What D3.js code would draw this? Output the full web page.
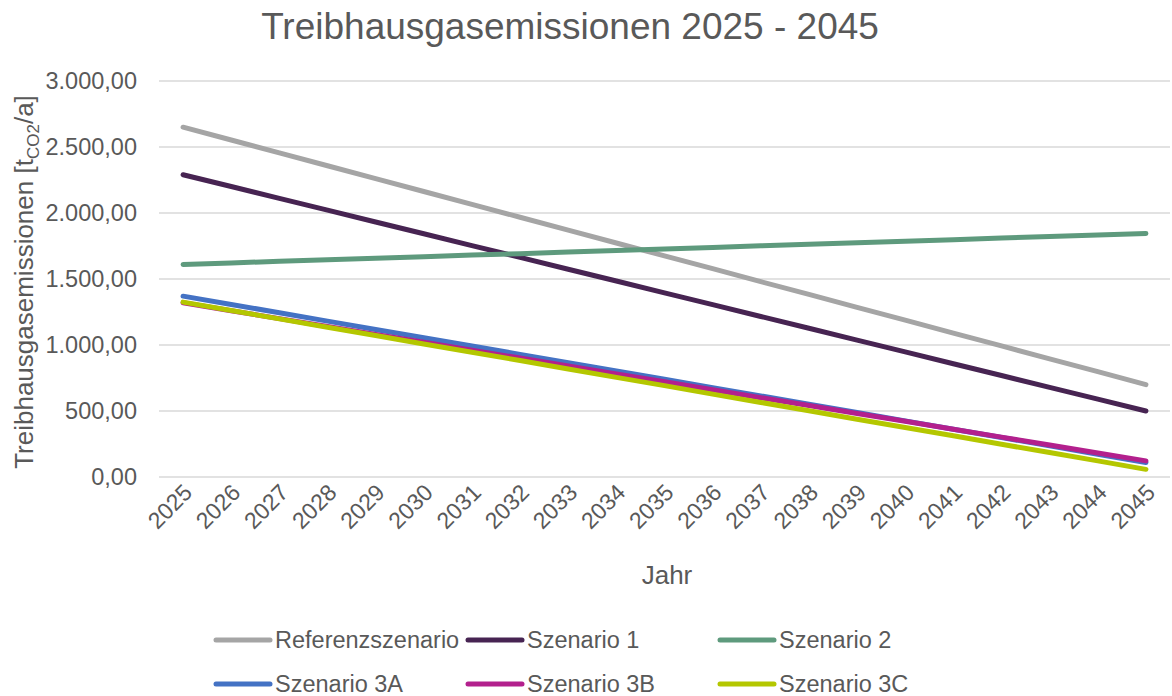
<!DOCTYPE html>
<html>
<head>
<meta charset="utf-8">
<script src="https://cdn.jsdelivr.net/npm/d3@7/dist/d3.min.js"></script>
<style>
  html, body { margin: 0; padding: 0; background: #fff; }
  svg { display: block; font-family: "Liberation Sans", Arial, sans-serif; }
</style>
</head>
<body>
<svg id="chart" width="1172" height="696"></svg>
<script>
// Jahre (Kategorien der x-Achse)
const years = ["2025","2026","2027","2028","2029","2030","2031","2032","2033","2034","2035",
               "2036","2037","2038","2039","2040","2041","2042","2043","2044","2045"];

// Emissionen je Szenario in t CO2 pro Jahr
const referenz   = [2650, 2553, 2455, 2358, 2260, 2163, 2065, 1968, 1870, 1773, 1675, 1578, 1480, 1383, 1285, 1188, 1090, 993, 895, 798, 700];
const szenario1  = [2290, 2201, 2111, 2022, 1932, 1843, 1753, 1664, 1574, 1485, 1395, 1306, 1216, 1127, 1037, 948, 858, 769, 679, 590, 500];
const szenario2  = [1610, 1622, 1634, 1645, 1657, 1669, 1681, 1692, 1704, 1716, 1728, 1739, 1751, 1763, 1775, 1786, 1798, 1810, 1822, 1833, 1845];
const szenario3A = [1370, 1307, 1244, 1181, 1118, 1055, 992, 929, 866, 803, 740, 677, 614, 551, 488, 425, 362, 299, 236, 173, 110];
const szenario3B = [1320, 1260, 1200, 1140, 1080, 1021, 961, 901, 841, 781, 721, 661, 601, 541, 481, 422, 362, 302, 242, 182, 122];
const szenario3C = [1325, 1262, 1198, 1135, 1072, 1008, 945, 882, 818, 755, 692, 628, 565, 502, 438, 375, 312, 248, 185, 122, 58];

const seriesNames = ["Referenzszenario", "Szenario 1", "Szenario 2", "Szenario 3A", "Szenario 3B", "Szenario 3C"];
const seriesValues = [referenz, szenario1, szenario2, szenario3A, szenario3B, szenario3C];
const seriesColors = ["#A5A5A5", "#472452", "#5E9A7D", "#4472C4", "#B3208D", "#B4C700"];

const yTicks = [0, 500, 1000, 1500, 2000, 2500, 3000];

const svg = d3.select("#chart");
const textColor = "#595959";
const plot = { left: 159, right: 1170, top: 81, bottom: 477 };

const de = d3.formatLocale({ decimal: ",", thousands: ".", grouping: [3], currency: ["", " €"] });
const fmt = de.format(",.2f");

const x = d3.scalePoint().domain(years).range([plot.left, plot.right]).padding(0.5);
const y = d3.scaleLinear().domain([0, 3000]).range([plot.bottom, plot.top]);

// Title
svg.append("text")
  .attr("x", 570).attr("y", 39)
  .attr("text-anchor", "middle")
  .attr("fill", textColor)
  .style("font-size", "37px")
  .text("Treibhausgasemissionen 2025 - 2045");

// Horizontal grid lines
svg.append("g").selectAll("line").data(yTicks).join("line")
  .attr("x1", plot.left).attr("x2", plot.right)
  .attr("y1", d => y(d)).attr("y2", d => y(d))
  .attr("stroke", "#D9D9D9").attr("stroke-width", 1.5);

// y axis labels
const yAxis = svg.append("g")
  .attr("transform", `translate(${plot.left},0)`)
  .call(d3.axisLeft(y).tickValues(yTicks).tickFormat(fmt).tickSize(0).tickPadding(22));
yAxis.select(".domain").remove();
yAxis.selectAll("text").attr("fill", textColor).style("font-size", "23.5px")
  .style("font-family", "'Liberation Sans', Arial, sans-serif");

// x axis labels, rotated
const xAxis = svg.append("g")
  .attr("transform", `translate(0,${plot.bottom})`)
  .call(d3.axisBottom(x).tickSize(0).tickPadding(0));
xAxis.select(".domain").remove();
xAxis.selectAll("text")
  .attr("fill", textColor)
  .style("font-size", "23px")
  .style("font-family", "'Liberation Sans', Arial, sans-serif")
  .attr("text-anchor", "end")
  .attr("dy", null)
  .attr("transform", "translate(10,17) rotate(-45)");

// Axis titles
svg.append("text")
  .attr("x", 667).attr("y", 584)
  .attr("text-anchor", "middle")
  .attr("fill", textColor)
  .style("font-size", "26px")
  .text("Jahr");

const yTitle = svg.append("text")
  .attr("transform", "translate(33,282) rotate(-90)")
  .attr("text-anchor", "middle")
  .attr("fill", textColor)
  .style("font-size", "26px");
yTitle.append("tspan").text("Treibhausgasemissionen [t");
yTitle.append("tspan").attr("dy", 6).style("font-size", "17px").text("CO2");
yTitle.append("tspan").attr("dy", -6).text("/a]");

// Lines
const line = d3.line().x((d, i) => x(years[i])).y(d => y(d));
svg.append("g").selectAll("path").data(seriesValues).join("path")
  .attr("d", d => line(d))
  .attr("fill", "none")
  .attr("stroke", (d, i) => seriesColors[i])
  .attr("stroke-width", 5)
  .attr("stroke-linecap", "round")
  .attr("stroke-linejoin", "round");

// Legend
const legendCols = [216, 468, 720];
const legendRows = [640, 684];
const legend = svg.append("g").selectAll("g").data(seriesNames).join("g")
  .attr("transform", (d, i) => `translate(${legendCols[i % 3]},${legendRows[Math.floor(i / 3)]})`);
legend.append("line")
  .attr("x1", 0).attr("x2", 54).attr("y1", 0).attr("y2", 0)
  .attr("stroke", (d, i) => seriesColors[i])
  .attr("stroke-width", 5)
  .attr("stroke-linecap", "round");
legend.append("text")
  .attr("x", 59).attr("y", 0).attr("dy", "0.35em")
  .attr("fill", textColor)
  .style("font-size", "23.5px")
  .text(d => d);
</script>
</body>
</html>
